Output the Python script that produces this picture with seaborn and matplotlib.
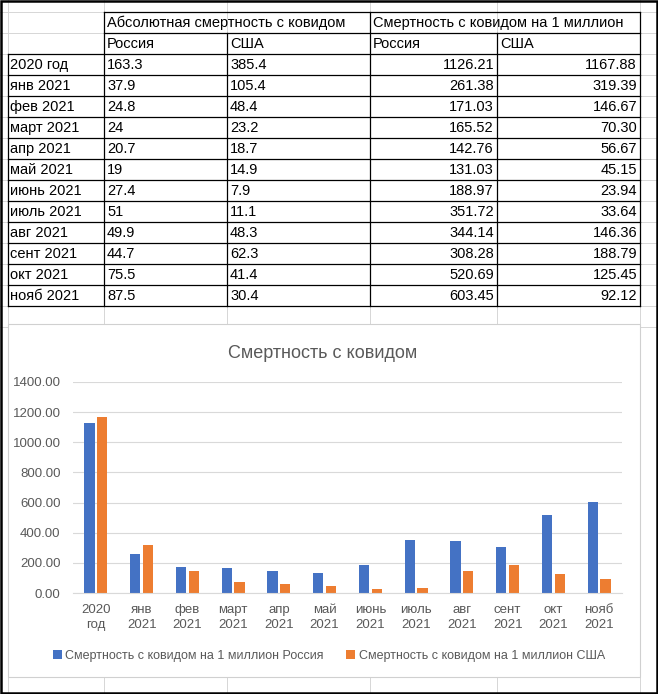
import matplotlib
matplotlib.use("Agg")
import matplotlib.pyplot as plt
import matplotlib.patches as mpatches
import pandas as pd
import seaborn as sns

# Data from the sheet
periods = ["2020 год", "янв 2021", "фев 2021", "март 2021", "апр 2021", "май 2021",
           "июнь 2021", "июль 2021", "авг 2021", "сент 2021", "окт 2021", "нояб 2021"]
abs_russia = [163.3, 37.9, 24.8, 24, 20.7, 19, 27.4, 51, 49.9, 44.7, 75.5, 87.5]
abs_usa = [385.4, 105.4, 48.4, 23.2, 18.7, 14.9, 7.9, 11.1, 48.3, 62.3, 41.4, 30.4]
mln_russia = [1126.21, 261.38, 171.03, 165.52, 142.76, 131.03, 188.97, 351.72,
              344.14, 308.28, 520.69, 603.45]
mln_usa = [1167.88, 319.39, 146.67, 70.30, 56.67, 45.15, 23.94, 33.64,
           146.36, 188.79, 125.45, 92.12]
group_headers = ["Абсолютная смертность с ковидом", "Смертность с ковидом на 1 миллион"]
countries = ["Россия", "США"]
series_names = ["Смертность с ковидом на 1 миллион Россия",
                "Смертность с ковидом на 1 миллион США"]
chart_title = "Смертность с ковидом"

plt.rcParams['font.family'] = ['Liberation Sans', 'DejaVu Sans']

W, H = 658, 694
fig = plt.figure(figsize=(W / 100, H / 100), dpi=100)
fig.patch.set_facecolor("white")

# Sheet layer in pixel coordinates
sheet = fig.add_axes([0, 0, 1, 1])
sheet.set_xlim(0, W)
sheet.set_ylim(H, 0)
sheet.axis("off")

col_x = [7.5, 104, 227, 370, 497, 640]
row_h = 21
top = 11.5
n_rows = 2 + len(periods)
row_y = [top + i * row_h for i in range(n_rows + 1)]
grid_c = "#d6d6d6"

# light Excel gridlines
for x in col_x:
    sheet.plot([x, x], [0, H], color=grid_c, lw=0.7, zorder=1)
for y in row_y + [row_y[-1] + row_h]:
    sheet.plot([0, W], [y, y], color=grid_c, lw=0.7, zorder=1)

# black cell borders
lw_b = 0.9
sheet.plot([col_x[1], col_x[5]], [row_y[0], row_y[0]], color="black", lw=lw_b, zorder=2)
sheet.plot([col_x[1], col_x[5]], [row_y[1], row_y[1]], color="black", lw=lw_b, zorder=2)
for y in row_y[2:]:
    sheet.plot([col_x[0], col_x[5]], [y, y], color="black", lw=lw_b, zorder=2)
sheet.plot([col_x[0], col_x[0]], [row_y[2], row_y[-1]], color="black", lw=lw_b, zorder=2)
for x in [col_x[1], col_x[3], col_x[5]]:
    sheet.plot([x, x], [row_y[0], row_y[-1]], color="black", lw=lw_b, zorder=2)
for x in [col_x[2], col_x[4]]:
    sheet.plot([x, x], [row_y[1], row_y[-1]], color="black", lw=lw_b, zorder=2)

fs = 10.5
def cell_y(i):
    return (row_y[i] + row_y[i + 1]) / 2 + 0.5

sheet.text(col_x[1] + 3, cell_y(0), group_headers[0], fontsize=fs, va="center", ha="left")
sheet.text(col_x[3] + 3, cell_y(0), group_headers[1], fontsize=fs, va="center", ha="left")
for j, c in enumerate(countries):
    sheet.text(col_x[1 + j] + 3, cell_y(1), c, fontsize=fs, va="center", ha="left")
    sheet.text(col_x[3 + j] + 3, cell_y(1), c, fontsize=fs, va="center", ha="left")

for i, p in enumerate(periods):
    yy = cell_y(i + 2)
    sheet.text(col_x[0] + 3, yy, p, fontsize=fs, va="center", ha="left")
    sheet.text(col_x[1] + 3, yy, f"{abs_russia[i]:g}", fontsize=fs, va="center", ha="left")
    sheet.text(col_x[2] + 3, yy, f"{abs_usa[i]:g}", fontsize=fs, va="center", ha="left")
    sheet.text(col_x[4] - 3, yy, f"{mln_russia[i]:.2f}", fontsize=fs, va="center", ha="right")
    sheet.text(col_x[5] - 3, yy, f"{mln_usa[i]:.2f}", fontsize=fs, va="center", ha="right")

# chart area box
sheet.add_patch(mpatches.Rectangle((7.5, 324), 632.5, 353, facecolor="white",
                                   edgecolor="#d0d0d0", lw=0.8, zorder=3))
sheet.text(323, 353, chart_title, fontsize=13, color="#595959", ha="center", va="center", zorder=4)

# outer frame
sheet.add_patch(mpatches.Rectangle((1, 1), W - 2, H - 2, fill=False,
                                   edgecolor="black", lw=1.8, zorder=5))

# Chart
df = pd.DataFrame({
    "period": periods * 2,
    "series": [series_names[0]] * len(periods) + [series_names[1]] * len(periods),
    "value": mln_russia + mln_usa,
})

ax = fig.add_axes([73 / W, 1 - 593 / H, 549 / W, 211 / H])
ax.set_facecolor("none")
sns.barplot(data=df, x="period", y="value", hue="series",
            palette=["#4472C4", "#ED7D31"], saturation=1,
            width=0.55, gap=0.18, ax=ax)

ax.set_ylim(0, 1400)
ax.set_yticks(range(0, 1401, 200))
ax.set_yticklabels([f"{v:.2f}" for v in range(0, 1401, 200)])
ax.set_xlim(-0.5, len(periods) - 0.5)
ax.set_xticks(range(len(periods)))
ax.set_xticklabels([p.replace(" ", "\n") for p in periods], linespacing=1.35)
ax.set_xlabel("")
ax.set_ylabel("")
ax.grid(axis="y", color="#d9d9d9", lw=0.8)
ax.set_axisbelow(True)
for s in ["top", "right", "left"]:
    ax.spines[s].set_visible(False)
ax.spines["bottom"].set_color("#d9d9d9")
ax.tick_params(axis="both", length=0, colors="#595959", labelsize=9.5)
ax.tick_params(axis="y", pad=9)
ax.tick_params(axis="x", pad=8)

handles, labels = ax.get_legend_handles_labels()
ax.legend(handles, labels, loc="center", bbox_to_anchor=(329 / W, 1 - 656 / H),
          bbox_transform=fig.transFigure, ncol=2, frameon=False, fontsize=9,
          handlelength=0.7, handleheight=0.7, handletextpad=0.3,
          columnspacing=1.8, labelcolor="#595959")

fig.savefig("out.png", dpi=100)
